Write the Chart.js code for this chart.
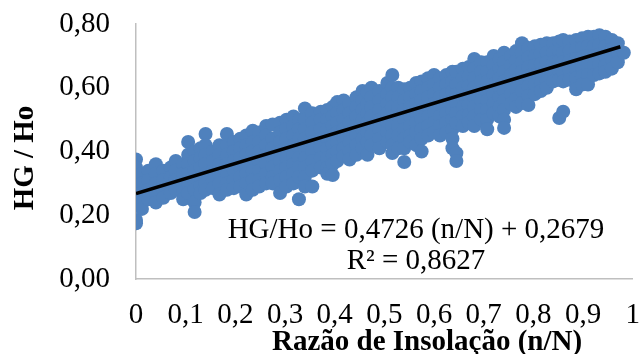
<!DOCTYPE html>
<html>
<head>
<meta charset="utf-8">
<script src="https://cdn.jsdelivr.net/npm/chart.js@4.4.1/dist/chart.umd.min.js"></script>
<style>
  html, body { margin: 0; padding: 0; background: #fff; }
  canvas { display: block; }
</style>
</head>
<body>
<canvas id="grafico" width="640" height="354"></canvas>
<script>
// leituras do grafico: [razao n/N, valores de HG/Ho nessa coluna]
const colunas = [
  [0.000, [0.375, 0.35, 0.325, 0.30, 0.28, 0.26, 0.185, 0.175]],
  [0.012, [0.33, 0.30, 0.27, 0.24, 0.22]],
  [0.025, [0.34, 0.31, 0.28, 0.25]],
  [0.040, [0.36, 0.33, 0.30, 0.27, 0.24]],
  [0.055, [0.34, 0.31, 0.28, 0.255]],
  [0.070, [0.35, 0.32, 0.29, 0.27]],
  [0.080, [0.37, 0.34, 0.31, 0.28]],
  [0.095, [0.36, 0.33, 0.30, 0.27, 0.25]],
  [0.105, [0.43, 0.39, 0.36, 0.33, 0.30, 0.27]],
  [0.118, [0.40, 0.37, 0.34, 0.31, 0.28, 0.24, 0.21]],
  [0.130, [0.41, 0.38, 0.35, 0.32, 0.29, 0.27]],
  [0.140, [0.455, 0.42, 0.39, 0.36, 0.33, 0.30, 0.28]],
  [0.155, [0.40, 0.37, 0.34, 0.31, 0.285]],
  [0.168, [0.42, 0.39, 0.36, 0.33, 0.30, 0.265]],
  [0.183, [0.455, 0.42, 0.39, 0.36, 0.33, 0.30, 0.28]],
  [0.197, [0.43, 0.40, 0.37, 0.34, 0.31, 0.285]],
  [0.210, [0.44, 0.41, 0.38, 0.35, 0.32, 0.29]],
  [0.222, [0.45, 0.42, 0.39, 0.36, 0.33, 0.30, 0.265]],
  [0.235, [0.465, 0.43, 0.40, 0.37, 0.34, 0.31, 0.28]],
  [0.248, [0.46, 0.43, 0.40, 0.37, 0.34, 0.31, 0.29]],
  [0.262, [0.48, 0.45, 0.42, 0.39, 0.36, 0.33, 0.30]],
  [0.275, [0.485, 0.44, 0.41, 0.38, 0.35, 0.32, 0.30]],
  [0.290, [0.49, 0.46, 0.43, 0.40, 0.37, 0.34, 0.31, 0.27]],
  [0.303, [0.50, 0.47, 0.44, 0.41, 0.38, 0.35, 0.32, 0.29]],
  [0.317, [0.51, 0.48, 0.45, 0.42, 0.39, 0.36, 0.33, 0.30]],
  [0.328, [0.50, 0.47, 0.44, 0.41, 0.38, 0.35, 0.32, 0.25]],
  [0.340, [0.535, 0.50, 0.47, 0.44, 0.41, 0.38, 0.35, 0.32, 0.29]],
  [0.355, [0.52, 0.49, 0.46, 0.43, 0.40, 0.37, 0.34, 0.29]],
  [0.372, [0.525, 0.50, 0.47, 0.44, 0.41, 0.38, 0.35]],
  [0.385, [0.53, 0.50, 0.47, 0.44, 0.41, 0.38, 0.35, 0.33]],
  [0.396, [0.54, 0.51, 0.48, 0.45, 0.42, 0.39, 0.36, 0.326]],
  [0.405, [0.555, 0.52, 0.49, 0.46, 0.43, 0.40, 0.37]],
  [0.418, [0.56, 0.53, 0.50, 0.47, 0.44, 0.41, 0.385]],
  [0.430, [0.55, 0.52, 0.49, 0.46, 0.43, 0.40, 0.375]],
  [0.444, [0.57, 0.54, 0.51, 0.48, 0.45, 0.42, 0.39]],
  [0.456, [0.59, 0.56, 0.53, 0.50, 0.47, 0.44, 0.41]],
  [0.466, [0.585, 0.55, 0.52, 0.49, 0.46, 0.43, 0.39]],
  [0.474, [0.60, 0.57, 0.54, 0.51, 0.48, 0.45, 0.42]],
  [0.490, [0.59, 0.56, 0.53, 0.50, 0.47, 0.44, 0.41]],
  [0.506, [0.615, 0.58, 0.55, 0.52, 0.49, 0.46, 0.43]],
  [0.516, [0.64, 0.60, 0.57, 0.54, 0.51, 0.48, 0.45, 0.42, 0.395]],
  [0.528, [0.60, 0.57, 0.54, 0.51, 0.48, 0.45, 0.41]],
  [0.540, [0.595, 0.56, 0.53, 0.50, 0.47, 0.44, 0.41, 0.367]],
  [0.552, [0.60, 0.57, 0.54, 0.51, 0.48, 0.45, 0.43]],
  [0.564, [0.615, 0.58, 0.55, 0.52, 0.49, 0.46, 0.42]],
  [0.575, [0.62, 0.59, 0.56, 0.53, 0.50, 0.47, 0.44, 0.40]],
  [0.588, [0.63, 0.60, 0.57, 0.54, 0.51, 0.48, 0.45]],
  [0.600, [0.64, 0.61, 0.58, 0.55, 0.52, 0.49, 0.46]],
  [0.612, [0.63, 0.60, 0.57, 0.54, 0.51, 0.48, 0.45]],
  [0.625, [0.64, 0.61, 0.58, 0.55, 0.52, 0.49, 0.46]],
  [0.637, [0.65, 0.62, 0.59, 0.56, 0.53, 0.50, 0.47, 0.44, 0.41]],
  [0.645, [0.65, 0.61, 0.58, 0.55, 0.52, 0.49, 0.395, 0.37]],
  [0.658, [0.66, 0.63, 0.60, 0.57, 0.54, 0.51, 0.48]],
  [0.670, [0.665, 0.635, 0.605, 0.575, 0.545, 0.515, 0.49]],
  [0.681, [0.69, 0.66, 0.63, 0.60, 0.57, 0.54, 0.51, 0.48]],
  [0.695, [0.68, 0.65, 0.62, 0.59, 0.56, 0.53, 0.50]],
  [0.707, [0.68, 0.65, 0.62, 0.59, 0.56, 0.53, 0.50, 0.47]],
  [0.720, [0.70, 0.67, 0.64, 0.61, 0.58, 0.55, 0.52]],
  [0.732, [0.69, 0.66, 0.63, 0.60, 0.57, 0.54, 0.51]],
  [0.741, [0.71, 0.68, 0.65, 0.62, 0.59, 0.56, 0.53, 0.50, 0.474]],
  [0.755, [0.70, 0.67, 0.64, 0.61, 0.58, 0.55]],
  [0.765, [0.715, 0.685, 0.655, 0.625, 0.595, 0.565, 0.54]],
  [0.777, [0.74, 0.71, 0.68, 0.65, 0.62, 0.59, 0.552]],
  [0.790, [0.725, 0.695, 0.665, 0.635, 0.605, 0.575, 0.546]],
  [0.803, [0.73, 0.70, 0.67, 0.64, 0.61, 0.58]],
  [0.815, [0.735, 0.705, 0.675, 0.645, 0.615, 0.59]],
  [0.827, [0.74, 0.71, 0.68, 0.65, 0.62, 0.60]],
  [0.840, [0.74, 0.71, 0.68, 0.65, 0.62]],
  [0.852, [0.745, 0.715, 0.685, 0.655, 0.625, 0.505]],
  [0.860, [0.75, 0.71, 0.68, 0.65, 0.62, 0.525]],
  [0.873, [0.745, 0.715, 0.685, 0.655, 0.625]],
  [0.886, [0.75, 0.72, 0.69, 0.66, 0.63, 0.595]],
  [0.898, [0.755, 0.725, 0.695, 0.665, 0.635, 0.61]],
  [0.910, [0.76, 0.73, 0.70, 0.67, 0.64, 0.61]],
  [0.922, [0.76, 0.73, 0.70, 0.67, 0.64]],
  [0.933, [0.765, 0.735, 0.705, 0.675, 0.645]],
  [0.945, [0.76, 0.73, 0.70, 0.67, 0.65]],
  [0.958, [0.75, 0.72, 0.69, 0.66]],
  [0.970, [0.74, 0.71, 0.68]],
  [0.982, [0.71]],
];

// reta de regressao (extremos)
const tendenciaX = [0, 0.975];
const tendenciaY = [0.2679, 0.7287];

const xTicks = [0, 0.1, 0.2, 0.3, 0.4, 0.5, 0.6, 0.7, 0.8, 0.9, 1];
const xTickLabels = ["0", "0,1", "0,2", "0,3", "0,4", "0,5", "0,6", "0,7", "0,8", "0,9", "1"];
const yTicks = [0, 0.2, 0.4, 0.6, 0.8];
const yTickLabels = ["0,00", "0,20", "0,40", "0,60", "0,80"];

const equacao = "HG/Ho = 0,4726 (n/N) + 0,2679";
const r2 = "R² = 0,8627";
const tituloX = "Razão de Insolação (n/N)";
const tituloY = "HG / Ho";

const fonte = "'Liberation Serif', 'Times New Roman', serif";
const azul = "#4F81BD";
const cinza = "#BFBFBF";

const pontos = colunas.flatMap(([x, ys]) => ys.map((y) => ({ x, y })));
const reta = tendenciaX.map((x, i) => ({ x, y: tendenciaY[i] }));

const textos = {
  id: "textos",
  afterDatasetsDraw(chart) {
    const { ctx } = chart;
    ctx.save();
    ctx.fillStyle = "#000";
    ctx.textAlign = "center";
    ctx.textBaseline = "alphabetic";
    ctx.font = "29px " + fonte;
    ctx.fillText(equacao, 416, 238);
    ctx.fillText(r2, 416, 269);

    ctx.font = "bold 29px " + fonte;
    ctx.fillText(tituloX, 427, 350);
    ctx.translate(33, 158);
    ctx.rotate(-Math.PI / 2);
    ctx.fillText(tituloY, 0, 0);
    ctx.restore();
  },
};

new Chart(document.getElementById("grafico"), {
  type: "scatter",
  data: {
    datasets: [
      {
        data: reta,
        showLine: true,
        borderColor: "#000",
        borderWidth: 3.5,
        pointRadius: 0,
      },
      {
        data: pontos,
        backgroundColor: azul,
        borderWidth: 0,
        pointRadius: 7,
      },
    ],
  },
  options: {
    responsive: false,
    animation: false,
    devicePixelRatio: 1,
    layout: { padding: { top: 24, right: 6, left: 0, bottom: 0 } },
    plugins: {
      legend: { display: false },
      tooltip: { enabled: false },
    },
    scales: {
      x: {
        type: "linear",
        min: 0,
        max: 1,
        afterBuildTicks: (scale) => {
          scale.ticks = xTicks.map((value) => ({ value }));
        },
        afterFit: (scale) => {
          scale.height = 75;
        },
        ticks: {
          callback: (value, index) => xTickLabels[index],
          color: "#000",
          font: { family: fonte, size: 29 },
          padding: 0,
          maxRotation: 0,
          autoSkip: false,
        },
        grid: { display: false, drawTicks: true, tickLength: 19 },
        border: { display: true, color: cinza, width: 1.5 },
      },
      y: {
        min: 0,
        max: 0.8,
        afterBuildTicks: (scale) => {
          scale.ticks = yTicks.map((value) => ({ value }));
        },
        afterFit: (scale) => {
          scale.width = 136;
        },
        ticks: {
          callback: (value, index) => yTickLabels[index],
          color: "#000",
          font: { family: fonte, size: 29 },
          padding: 0,
        },
        grid: { display: false, drawTicks: true, tickLength: 26 },
        border: { display: true, color: cinza, width: 1.5 },
      },
    },
  },
  plugins: [textos],
});
</script>
</body>
</html>
